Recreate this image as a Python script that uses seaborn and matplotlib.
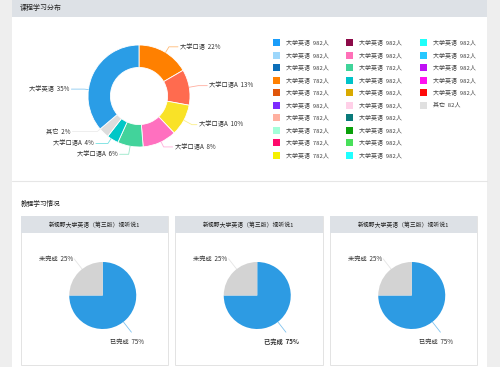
import numpy as np
import matplotlib.pyplot as plt
import seaborn as sns
from matplotlib.patches import Rectangle

# ---- course distribution (donut) ----
donut_names = ['大学口语', '大学口语A', '大学口语A', '大学口语A', '大学口语A', '大学口语A', '其它', '大学英语']
donut_pcts = ['22%', '13%', '10%', '8%', '6%', '4%', '2%', '35%']
donut_values = [16.6, 11.3, 10.0, 10.8, 8.1, 3.7, 3.3, 36.2]
donut_colors = ['#ff8000', '#ff6b4f', '#f9e227', '#ff70bf', '#42d39b', '#00c7c7', '#dcdcdc', '#2a9de6']

# ---- legend list on the right ----
legend_names = ['大学英语'] * 25 + ['其它']
legend_counts = ['982人', '982人', '982人', '782人', '782人', '982人', '782人', '782人', '782人', '782人',
                 '982人', '982人', '782人', '982人', '982人', '982人', '982人', '982人', '982人', '982人',
                 '982人', '982人', '982人', '982人', '982人', '82人']
legend_colors = ['#1a9dfa', '#9dd7fb', '#0c6eb8', '#ff8000', '#e0560a', '#7d2bff', '#ffb0a0', '#a3ffd9', '#ff0a6c', '#f5f000',
                 '#8c0a48', '#ff70b8', '#40d49a', '#00c3c9', '#d9aa00', '#ffd0e8', '#0a7a7a', '#0aa00a', '#48e05a', '#1fffff',
                 '#1ffffa', '#26c8ff', '#c010f5', '#ff10f0', '#ff0a0a', '#e0e0e0']

# ---- course progress cards ----
card_titles = ['新视野大学英语（第三版）视听说1'] * 3
pie_names = ['已完成', '未完成']
pie_values = [75, 25]
pie_colors = ['#2d9be3', '#d3d3d3']

sns.set_theme(style='white')
plt.rcParams['font.family'] = ['Noto Sans CJK SC', 'DejaVu Sans']

W, H = 500, 367
fig = plt.figure(figsize=(5, 3.67), dpi=100)
fig.patch.set_facecolor('white')

# background axes in pixel units for the panels
bg = fig.add_axes([0, 0, 1, 1])
bg.set_xlim(0, W)
bg.set_ylim(H, 0)
bg.axis('off')


def box(x0, y0, x1, y1, **kw):
    bg.add_patch(Rectangle((x0, y0), x1 - x0, y1 - y0, **kw))


def pie_axes(cx, cy, r):
    ax = fig.add_axes([(cx - r) / W, 1 - (cy + r) / H, 2 * r / W, 2 * r / H])
    return ax


box(0, 0, W, H, color='#eeeeee', lw=0)
box(12, 0, 487, H, color='white', lw=0)
box(12, 0, 487, 16.7, color='#dde1e6', lw=0)
bg.plot([12, 487], [181, 181], color='#e6e6e6', lw=0.8)
bg.text(19.5, 8.3, '课程学习分布', fontsize=5, color='#222222', va='center', ha='left')
bg.text(20.5, 204.3, '教程学习情况', fontsize=4.8, color='#222222', va='center', ha='left')

# donut
ax = pie_axes(139, 96, 51)
wedges, _ = ax.pie(donut_values, colors=donut_colors, startangle=90, counterclock=False,
                   wedgeprops=dict(width=0.44, edgecolor='white', linewidth=0.6))
ax.set_xlim(-1, 1)
ax.set_ylim(-1, 1)
ax.set_aspect('equal')
ax.axis('off')

label_dy = [3, 0, 0, -4, -1, -4, -8, 18.4]
label_ext = [0, 0, -4, 0, 0, 3, 16, 4]
u = 1 / 51
for w, name, pct, c, dy, ext in zip(wedges, donut_names, donut_pcts, donut_colors, label_dy, label_ext):
    th = np.radians((w.theta1 + w.theta2) / 2)
    ex, ey = 1.18 * np.cos(th), 1.18 * np.sin(th) - dy * u
    n = np.hypot(ex, ey)
    sx, sy = ex / n, ey / n
    side = 1 if np.cos(th) >= 0 else -1
    tx = ex + side * (9 + ext) * u
    ax.plot([sx, ex, tx], [sy, ey, ey], color=c, alpha=0.55, lw=0.6, clip_on=False)
    ax.text(tx + side * 2 * u, ey, f'{name}  {pct}', ha='left' if side > 0 else 'right',
            va='center', fontsize=4.5, color='#333333', clip_on=False)

# legend in three columns of ten
for i, (name, cnt, c) in enumerate(zip(legend_names, legend_counts, legend_colors)):
    col, row = divmod(i, 10)
    x = 276 + col * 73.5
    y = 42.7 + row * 12.5
    box(x - 3.5, y - 3.5, x + 3.5, y + 3.5, color=c, lw=0)
    bg.text(x + 9.7, y, f'{name}  {cnt}', fontsize=4.3, color='#444444', va='center', ha='left')

# cards
card_left = [20.5, 175, 329.5]
card_w = 147.5
for k, (left, title) in enumerate(zip(card_left, card_titles)):
    box(left, 216, left + card_w, 365, facecolor='white', edgecolor='#e3e3e3', lw=0.7)
    box(left, 216, left + card_w, 232.7, color='#dde1e6', lw=0)
    bg.text(left + card_w / 2, 224.5, title, fontsize=4.2, color='#222222', ha='center', va='center')

    pax = pie_axes(left + card_w / 2 + 8.5, 295.5, 33.5)
    pw, _ = pax.pie(pie_values, colors=pie_colors, startangle=90, counterclock=False,
                    wedgeprops=dict(linewidth=0))
    pax.set_xlim(-1, 1)
    pax.set_ylim(-1, 1)
    pax.set_aspect('equal')
    pax.axis('off')
    for w, name, v, c in zip(pw, pie_names, pie_values, pie_colors):
        a = np.radians((w.theta1 + w.theta2) / 2 - 7)
        ca, sa = np.cos(a), np.sin(a)
        pax.plot([ca, 1.39 * ca], [sa, 1.39 * sa], color=c, alpha=0.6, lw=0.6, clip_on=False)
        weight = 'bold' if (k == 1 and v == max(pie_values)) else 'normal'
        if sa >= 0:
            pax.text(1.39 * ca - 0.03, 1.39 * sa, f'{name}  {v}%', ha='right', va='center',
                     fontsize=4.5, color='#333333', clip_on=False, fontweight=weight)
        else:
            pax.text(1.39 * ca - 0.12, 1.39 * sa - 0.28, f'{name}  {v}%', ha='center', va='center',
                     fontsize=4.5, color='#333333', clip_on=False, fontweight=weight)

fig.savefig('out.png', dpi=100, facecolor='white')
